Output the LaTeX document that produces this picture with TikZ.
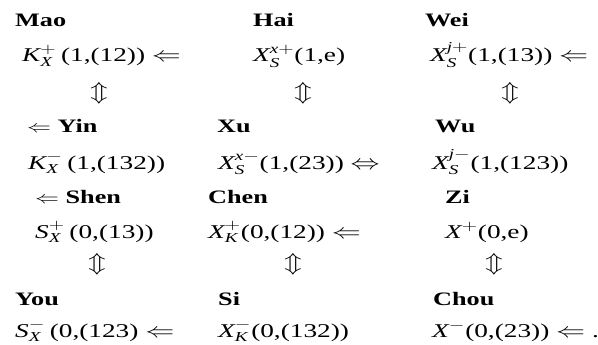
\documentclass[tikz,border=0pt]{standalone}
\usepackage{amsmath,amssymb}
\usepackage{fontspec}
\setmainfont{Liberation Serif}
\usepackage{graphicx}
\usetikzlibrary{positioning}
\newcommand{\wide}[1]{\scalebox{1.4}[1]{#1}}
\newcommand{\widelbl}[1]{\scalebox{1.38}[1]{#1}}

\begin{document}
\begin{tikzpicture}[x=1pt, y=-1pt,
  every node/.style={inner sep=0pt, font=\fontsize{19.5}{22}\selectfont},
  lbl/.style={anchor=base west, font=\fontsize{19}{22}\selectfont\bfseries},
  fml/.style={anchor=base west},
  udarr/.style={anchor=center, font=\fontsize{20}{22}\selectfont}]
\useasboundingbox (0,0) rectangle (598,345);
% first block
\node[lbl] (mao) at (15,27) {\widelbl{Mao}};
\node[lbl] (hai) at (253,27) {\widelbl{Hai}};
\node[lbl] (wei) at (425,27) {\widelbl{Wei}};
\node[fml] (kxp) at (22,62) {\wide{$\mathit{K}_{\mathit{X}}^{+}$\,(1,(12)) $\Leftarrow$}};
\node[fml] (xsxp) at (253,62) {\wide{$\mathit{X}_{\mathit{S}}^{\mathit{x}+}$(1,e)}};
\node[fml] (xsjp) at (430,62) {\wide{$\mathit{X}_{\mathit{S}}^{\mathit{j}+}$(1,(13)) $\Leftarrow$}};
\node[udarr] (ua) at (99,93) {\wide{$\Updownarrow$}};
\node[udarr] (ub) at (303,93) {\wide{$\Updownarrow$}};
\node[udarr] (uc) at (510,93) {\wide{$\Updownarrow$}};
\node[lbl] (yin) at (27,133) {\widelbl{$\Leftarrow$ Yin}};
\node[lbl] (xu) at (217,133) {\widelbl{Xu}};
\node[lbl] (wu) at (435,133) {\widelbl{Wu}};
\node[fml] (kxm) at (28,169) {\wide{$\mathit{K}_{\mathit{X}}^{-}$\,(1,(132))}};
\node[fml] (xsxm) at (218,169) {\wide{$\mathit{X}_{\mathit{S}}^{\mathit{x}-}$(1,(23)) $\Leftrightarrow$}};
\node[fml] (xsjm) at (432,169) {\wide{$\mathit{X}_{\mathit{S}}^{\mathit{j}-}$(1,(123))}};
% second block
\node[lbl] (shen) at (35,203) {\widelbl{$\Leftarrow$ Shen}};
\node[lbl] (chen) at (208,203) {\widelbl{Chen}};
\node[lbl] (zi) at (445,203) {\widelbl{Zi}};
\node[fml] (sxp) at (35,238) {\wide{$\mathit{S}_{\mathit{X}}^{+}$\,(0,(13))}};
\node[fml] (xkp) at (208,238) {\wide{$\mathit{X}_{\mathit{K}}^{+}$(0,(12)) $\Leftarrow$}};
\node[fml] (xp) at (445,238) {\wide{$\mathit{X}^{+}$(0,e)}};
\node[udarr] (ud) at (97,264) {\wide{$\Updownarrow$}};
\node[udarr] (ue) at (293,264) {\wide{$\Updownarrow$}};
\node[udarr] (uf) at (494,264) {\wide{$\Updownarrow$}};
\node[lbl] (you) at (15,305) {\widelbl{You}};
\node[lbl] (si) at (218,305) {\widelbl{Si}};
\node[lbl] (chou) at (433,305) {\widelbl{Chou}};
\node[fml] (sxm) at (15,337) {\wide{$\mathit{S}_{\mathit{X}}^{-}$\,(0,(123) $\Leftarrow$}};
\node[fml] (xkm) at (218,337) {\wide{$\mathit{X}_{\mathit{K}}^{-}$(0,(132))}};
\node[fml] (xm) at (432,337) {\wide{$\mathit{X}^{-}$(0,(23)) $\Leftarrow$ .}};
\end{tikzpicture}
\end{document}
